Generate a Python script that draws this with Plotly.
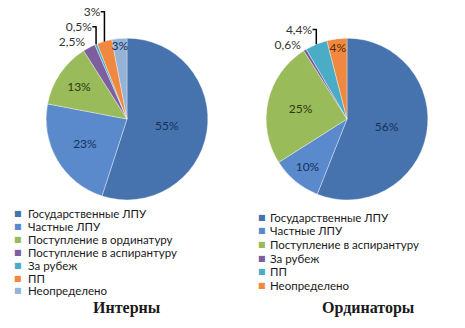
import plotly.graph_objects as go

W, H = 465, 328

# ---- data ----
interns_labels = ["Государственные ЛПУ", "Частные ЛПУ", "Поступление в ординатуру",
                  "Поступление в аспирантуру", "За рубеж", "ПП", "Неопределено"]
interns_values = [55, 23, 13, 2.5, 0.5, 3, 3]
interns_colors = ["#4672AE", "#5A8ACC", "#9ABB59", "#7D5FA0", "#4BACC6", "#F0893F", "#95B3D7"]
interns_textpos = ["inside", "inside", "inside", "outside", "outside", "outside", "inside"]

resid_labels = ["Государственные ЛПУ", "Частные ЛПУ", "Поступление в аспирантуру",
                "За рубеж", "ПП", "Неопределено"]
resid_values = [56, 10, 25, 0.6, 4.4, 4]
resid_colors = ["#4672AE", "#5A8ACC", "#9ABB59", "#7D5FA0", "#4BACC6", "#F0893F"]
resid_textpos = ["inside", "inside", "inside", "outside", "outside", "inside"]

titles = ["Интерны", "Ординаторы"]


def pct_text(vals):
    return [("%g" % v).replace(".", ",") + "%" for v in vals]


def text_colors(colors, pos):
    out = []
    for c, p in zip(colors, pos):
        if p == "outside":
            out.append("#333333")
        elif c == "#9ABB59":
            out.append("#2A3A12")
        elif c == "#F0893F":
            out.append("#5A2A05")
        else:
            out.append("#17305A")
    return out


def px_dom(cx, cy, r):
    return dict(x=[(cx - r) / W, (cx + r) / W], y=[1 - (cy + r) / H, 1 - (cy - r) / H])


fig = go.Figure()
pies = [
    (interns_labels, interns_values, interns_colors, interns_textpos, 127, 98),
    (resid_labels, resid_values, resid_colors, resid_textpos, 347, 98),
]
for labels, vals, cols, pos, cx, cy in pies:
    fig.add_trace(go.Pie(
        labels=labels, values=vals, sort=False, direction="clockwise", rotation=0,
        marker=dict(colors=cols, line=dict(color="rgba(255,255,255,0.6)", width=0.6)),
        text=pct_text(vals), textinfo="text", textposition=pos,
        insidetextorientation="horizontal",
        textfont=dict(family="Lato, sans-serif", size=12, color=text_colors(cols, pos)),
        domain=px_dom(cx, cy, 89), showlegend=False, hoverinfo="label+percent",
    ))

# ---- legends (text annotations) ----
ann = []
legends = [
    (interns_labels, interns_colors, 18, 26, 202, 14.2),
    (resid_labels, resid_colors, 262, 268, 206, 15.0),
]
for labels, cols, mx, tx, y0, step in legends:
    for i, (lab, c) in enumerate(zip(labels, cols)):
        y = y0 + i * step
        ann.append(dict(x=mx / W, y=1 - y / H, xref="paper", yref="paper",
                        text="■", showarrow=False, xanchor="center", yanchor="middle",
                        font=dict(family="DejaVu Sans", size=8, color=c)))
        ann.append(dict(x=tx / W, y=1 - y / H, xref="paper", yref="paper",
                        text=lab, showarrow=False, xanchor="left", yanchor="middle",
                        font=dict(family="Lato, sans-serif", size=11.5, color="#1a1a1a")))

for t, x in zip(titles, [127, 368]):
    ann.append(dict(x=x / W, y=1 - 306 / H, xref="paper", yref="paper", text="<b>%s</b>" % t,
                    showarrow=False, xanchor="center", yanchor="middle",
                    font=dict(family="Liberation Serif, serif", size=16, color="#1a1a1a")))

fig.update_layout(
    width=W, height=H, margin=dict(l=0, r=0, t=0, b=0),
    paper_bgcolor="white", plot_bgcolor="white",
    separators=", ", annotations=ann,
    uniformtext=dict(minsize=12, mode="show"),
)
fig.write_html("out.html")
